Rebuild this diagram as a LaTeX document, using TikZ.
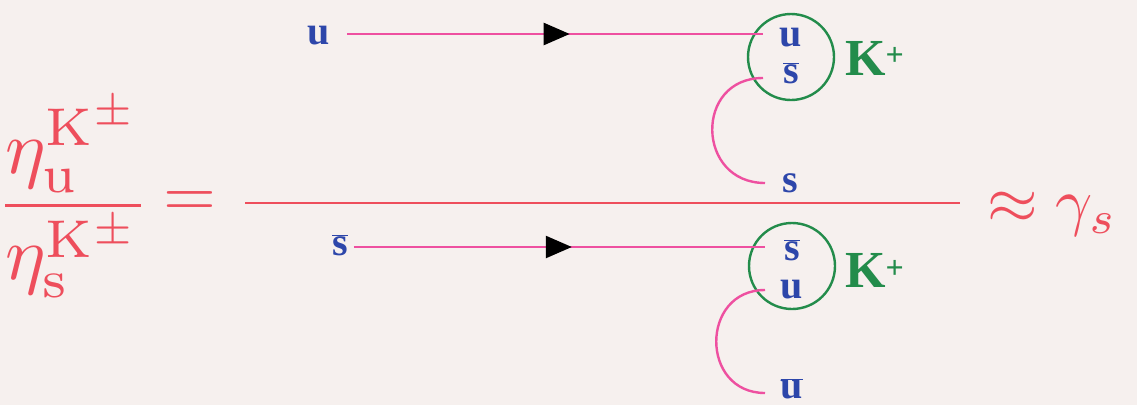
\documentclass[tikz,border=0pt]{standalone}
\usepackage{graphicx}
\usepackage{fontspec}
\newfontfamily\tms{Liberation Serif}
\usetikzlibrary{arrows.meta,decorations.markings}
\definecolor{bg}{RGB}{246,240,238}
\definecolor{fred}{RGB}{238,78,92}
\definecolor{lpink}{RGB}{238,80,160}
\definecolor{qblue}{RGB}{45,70,170}
\definecolor{kgreen}{RGB}{35,140,75}
\tikzset{
  quark/.style={text=qblue,font=\fontsize{40}{44}\selectfont\tms\bfseries,inner sep=0pt},
  kaon/.style={text=kgreen,font=\fontsize{52}{56}\selectfont\tms\bfseries,inner sep=0pt},
  prop/.style={lpink,line width=2.4pt},
  arrowline/.style={prop,postaction={decorate},decoration={markings,mark=at position #1 with {\arrow[black]{Triangle[length=26pt,width=22pt]}}}},
  meson/.style={draw=kgreen,line width=2.4pt,circle,minimum size=86pt,inner sep=0pt},
  eqn/.style={text=fred,inner sep=0pt}
}
\newcommand{\sbar}{$\overline{\mbox{s}}$}
\newcommand{\ubar}{$\overline{\mbox{u}}$}
\begin{document}
\begin{tikzpicture}[x=1pt,y=-1pt]
\fill[bg] (0,0) rectangle (1137,405);
\useasboundingbox (0,0) rectangle (1137,405);
% fraction
\node[eqn] (frac) at (73,198)
  {\scalebox{7.6}{$\displaystyle\frac{\eta_{\mathrm{u}}^{\mathrm{K}^{\pm}}}{\eta_{\mathrm{s}}^{\mathrm{K}^{\pm}}}$}};
\node[eqn] (eq) at (190,204) {\scalebox{6.8}{$=$}};
\coordinate (barL) at (245,203);
\coordinate (barR) at (960,203);
\draw[fred,line width=2pt] (barL) -- (barR);
\node[eqn,anchor=west] (approx) at (987,214) {\scalebox{6.5}{$\approx\gamma_s$}};
% top diagram
\node[quark] (u1) at (319,36) {u};
\node[meson] (k1) at (791,57) {};
\node[quark] (k1u) at (791,38) {u};
\node[quark] (k1s) at (791,73) {\sbar};
\node[kaon,anchor=west] (k1l) at (845,58) {K$^{\mbox{\fontsize{32}{34}\selectfont +}}$};
\node[quark] (s1) at (790,183) {s};
\coordinate (e1) at (763,34);
\coordinate (a1) at (763,78);
\coordinate (b1) at (765,183);
\draw[arrowline=0.535] (u1.east) ++(17,-2) coordinate (st1) (st1) -- (e1);
\draw[prop] (a1) .. controls (694,78) and (696,183) .. (b1);
% bottom diagram
\node[quark] (s2) at (340,245) {\sbar};
\node[meson] (k2) at (792,266) {};
\node[quark] (k2s) at (792,250) {\sbar};
\node[quark] (k2u) at (792,290) {u};
\node[kaon,anchor=west] (k2l) at (845,270) {K$^{\mbox{\fontsize{32}{34}\selectfont +}}$};
\node[quark] (u2) at (792,389) {\ubar};
\coordinate (e2) at (765,247);
\coordinate (a2) at (765,290);
\coordinate (b2) at (765,393);
\draw[arrowline=0.53] (s2.east) ++(6,2) coordinate (st2) (st2) -- (e2);
\draw[prop] (a2) .. controls (700,290) and (700,393) .. (b2);
\end{tikzpicture}
\end{document}
